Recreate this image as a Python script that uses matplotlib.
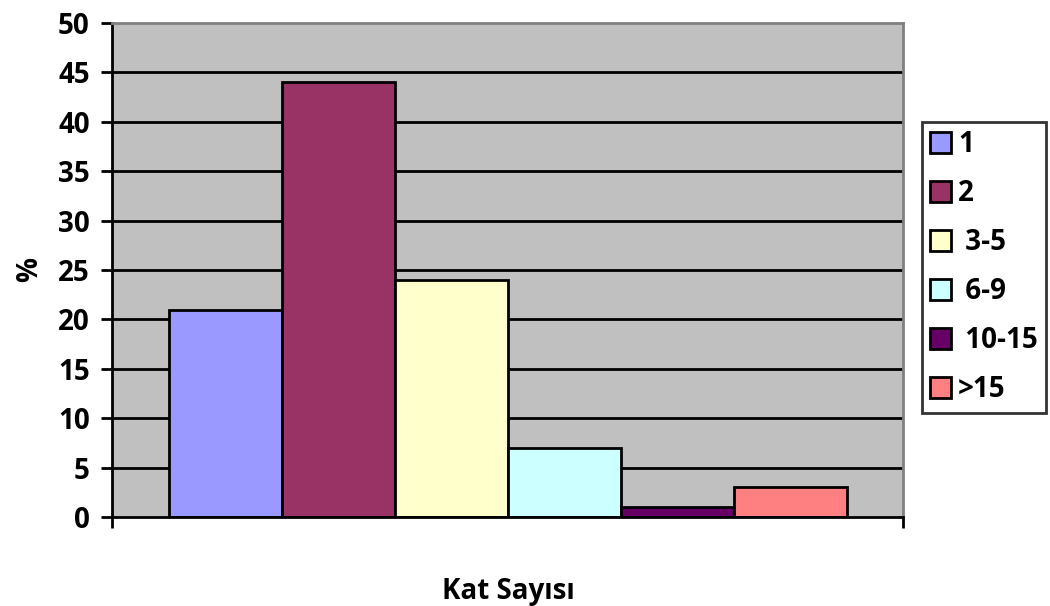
import matplotlib
matplotlib.use("Agg")
import matplotlib.pyplot as plt
from matplotlib.patches import Patch

# data
categories = ["1", "2", " 3-5", " 6-9", " 10-15", ">15"]
values = [21, 44, 24, 7, 1, 3]
colors = ["#9999FF", "#993366", "#FFFFCC", "#CCFFFF", "#660066", "#FF8080"]
yticks = [0, 5, 10, 15, 20, 25, 30, 35, 40, 45, 50]

plt.rcParams["font.family"] = ["Open Sans", "DejaVu Sans"]
plt.rcParams["font.weight"] = "bold"

fig = plt.figure(figsize=(10.5, 6.06), dpi=100)
ax = fig.add_axes([112 / 1050, 1 - 517 / 606, (903 - 112) / 1050, (517 - 23) / 606])
ax.set_facecolor("#C0C0C0")

# horizontal gridlines
for y in yticks[1:-1]:
    ax.axhline(y, color="black", lw=2, zorder=1)

# one bar per series, side by side
for i, (cat, val, col) in enumerate(zip(categories, values, colors)):
    ax.bar(i + 1, val, width=1, color=col, edgecolor="black", lw=2, zorder=2)

ax.set_xlim(0, 7)
ax.set_ylim(0, 50)
ax.set_yticks(yticks)
ax.set_yticklabels([str(y) for y in yticks], fontsize=20, fontweight="bold")
ax.set_xticks([0, 7])
ax.set_xticklabels(["", ""])
ax.tick_params(axis="y", direction="out", length=8, width=2, pad=8)
ax.tick_params(axis="x", direction="out", length=8, width=2)

for side in ["left", "bottom"]:
    ax.spines[side].set_linewidth(2)
    ax.spines[side].set_color("black")
for side in ["top", "right"]:
    ax.spines[side].set_linewidth(2)
    ax.spines[side].set_color("#808080")

fig.text(30 / 1050, 1 - 270 / 606, "%", rotation=90, fontsize=20,
         fontweight="bold", ha="center", va="center")
fig.text(508 / 1050, 1 - 592 / 606, "Kat Sayısı", fontsize=20,
         fontweight="bold", ha="center", va="center")

handles = [Patch(facecolor=c, edgecolor="black", lw=2) for c in colors]
leg = fig.legend(handles, categories, loc="upper left",
                 bbox_to_anchor=(922 / 1050, 1 - 122 / 606),
                 prop={"size": 20, "weight": "bold"}, frameon=True,
                 fancybox=False, edgecolor="black", handlelength=0.75,
                 handleheight=0.75, handletextpad=0.25, labelspacing=0.72,
                 borderpad=0.3, borderaxespad=0)
leg.get_frame().set_linewidth(2)

fig.savefig("out.png", dpi=100, facecolor="white")
